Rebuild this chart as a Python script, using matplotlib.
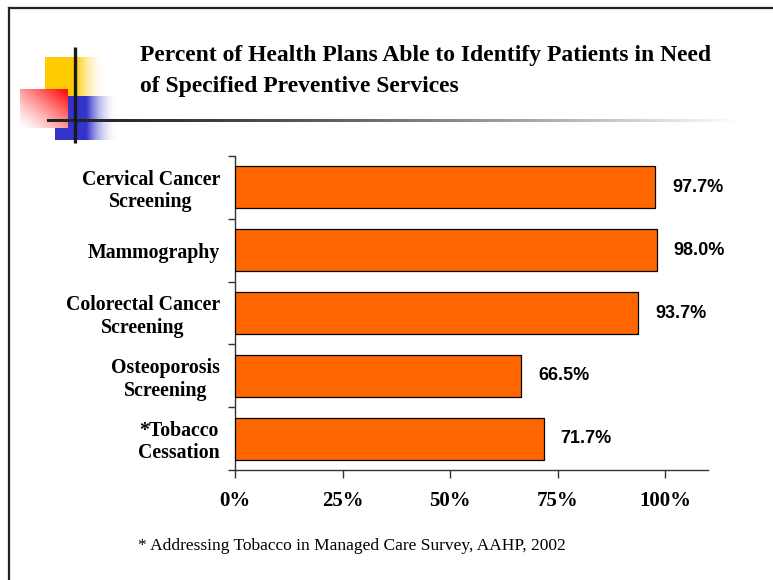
import numpy as np
import matplotlib
matplotlib.use("Agg")
import matplotlib.pyplot as plt
from matplotlib.colors import to_rgb

categories = ["Cervical Cancer\nScreening", "Mammography", "Colorectal Cancer\nScreening",
              "Osteoporosis\nScreening", "*Tobacco\nCessation"]
values = [97.7, 98.0, 93.7, 66.5, 71.7]
xtick_vals = [0, 25, 50, 75, 100]
xtick_labels = ["0%", "25%", "50%", "75%", "100%"]
title = "Percent of Health Plans Able to Identify Patients in Need\nof Specified Preventive Services"
footnote = "* Addressing Tobacco in Managed Care Survey, AAHP, 2002"

W, H = 773, 580
fig = plt.figure(figsize=(W / 100, H / 100), dpi=100)

# ---- decoration layer (pixel coordinates) ----
bg = fig.add_axes([0, 0, 1, 1], zorder=0)
bg.set_xlim(0, W)
bg.set_ylim(H, 0)
bg.axis("off")

def hgrad_rect(ax, x0, x1, y0, y1, color, solid_frac, z):
    n = 200
    rgb = np.array(to_rgb(color))
    t = np.linspace(0, 1, n)
    a = np.where(t < solid_frac, 1.0, np.clip((1 - t) / (1 - solid_frac), 0, 1))
    img = np.ones((1, n, 4))
    img[0, :, :3] = rgb * a[:, None] + (1 - a[:, None])
    img[0, :, 3] = a
    ax.imshow(img, extent=[x0, x1, y1, y0], aspect="auto", zorder=z, interpolation="bilinear")

hgrad_rect(bg, 45, 106, 57, 96, "#FFCC00", 0.5, 1)
hgrad_rect(bg, 55, 118, 96, 140, "#3333CC", 0.5, 1)

# red square: red at top-right fading to white at bottom-left
n = 100
xx, yy = np.meshgrid(np.linspace(0, 1, n), np.linspace(0, 1, n))
s = np.clip((xx + (1 - yy)) / 2.0, 0, 1) ** 1.3
red = np.ones((n, n, 4))
red[..., 0] = 1.0
red[..., 1] = 1 - s
red[..., 2] = 1 - s
bg.imshow(red, extent=[20, 68, 128, 89], aspect="auto", zorder=2, interpolation="bilinear")

# horizontal gradient line
n = 400
t = np.linspace(0, 1, n)
g = 0.13 + 0.87 * t ** 1.4
line = np.ones((1, n, 4))
line[0, :, 0] = g
line[0, :, 1] = g
line[0, :, 2] = g
bg.imshow(line, extent=[47, 740, 122.5, 119.5], aspect="auto", zorder=3, interpolation="bilinear")
bg.plot([75, 75], [47, 143], color="#1a1a1a", lw=2.4, zorder=4, solid_capstyle="butt")

# border lines (top, left)
bg.plot([8.5, W], [7.5, 7.5], color="#222222", lw=1.6, zorder=5)
bg.plot([8.5, 8.5], [7.5, H], color="#222222", lw=1.6, zorder=5)

# ---- title & footnote ----
fig.text(140 / W, 1 - 45 / H, title, ha="left", va="top", fontsize=17,
         fontweight="bold", family="Liberation Serif", linespacing=1.65, color="black")
fig.text(138 / W, 1 - 546 / H, footnote, ha="left", va="center", fontsize=12.5,
         family="Liberation Serif", color="black")

# ---- bar chart ----
ax = fig.add_axes([235.3 / W, 1 - 470 / H, 473 / W, 314 / H], zorder=2)
ax.patch.set_alpha(0)
y = np.arange(len(categories))
ax.barh(y, values, height=0.67, color="#FF6600", edgecolor="black", linewidth=0.9, zorder=3)
ax.set_xlim(0, 110)
ax.set_ylim(len(categories) - 0.5, -0.5)

for spine in ["top", "right"]:
    ax.spines[spine].set_visible(False)
for spine in ["left", "bottom"]:
    ax.spines[spine].set_color("#333333")
    ax.spines[spine].set_linewidth(1.0)

ax.set_xticks(xtick_vals)
ax.set_xticklabels(xtick_labels, fontsize=15, fontweight="bold", family="Liberation Serif")
ax.tick_params(axis="x", direction="out", length=6, width=1, color="#333333", pad=9)

ax.set_yticks(np.arange(len(categories) + 1) - 0.5)
ax.set_yticklabels([])
ax.tick_params(axis="y", which="major", direction="out", length=5, width=1, color="#333333")
ax.set_yticks(y, minor=True)
ax.set_yticklabels(categories, minor=True, fontsize=14.3, fontweight="bold",
                   family="Liberation Serif", multialignment="center", linespacing=1.15)
ax.tick_params(axis="y", which="minor", length=0, pad=11)

for i, v in enumerate(values):
    ax.annotate(f"{v:.1f}%", xy=(v, i), xytext=(12, 0), textcoords="offset points",
                ha="left", va="center", fontsize=13, fontweight="bold",
                family="Liberation Sans", color="black")

fig.savefig("out.png", dpi=100)
